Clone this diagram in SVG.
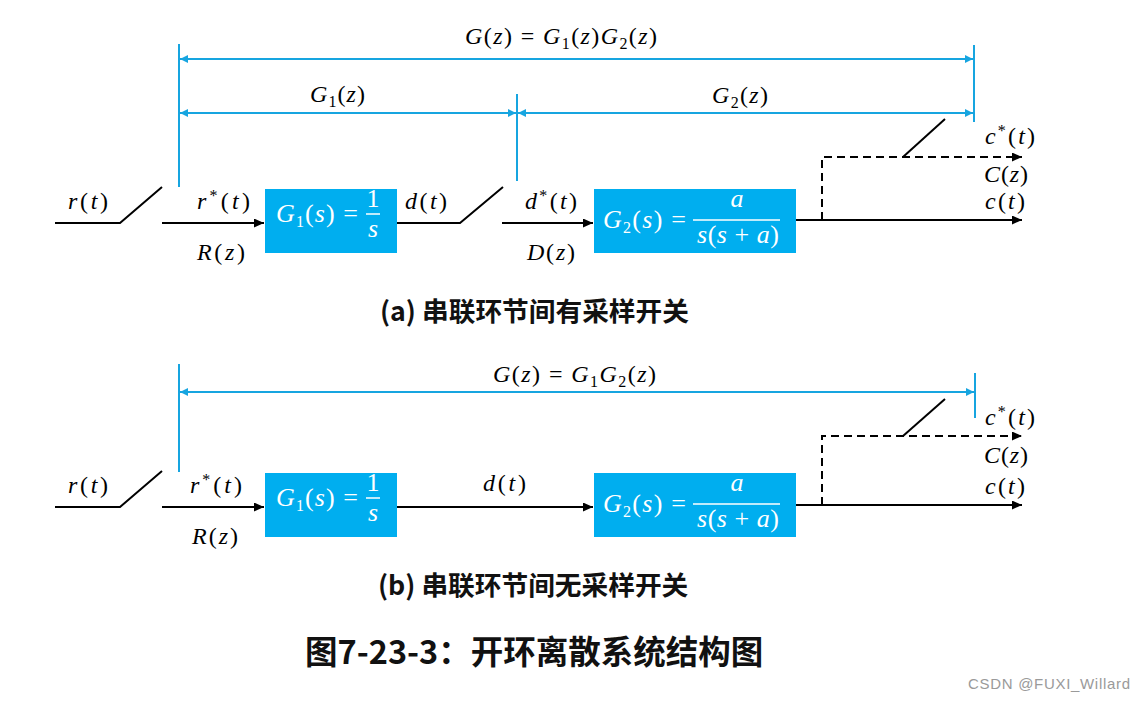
<svg xmlns="http://www.w3.org/2000/svg" width="1145" height="702" viewBox="0 0 1145 702">
<defs>
<style>
.m{font-family:"Liberation Serif","Times New Roman",serif;font-size:24px;fill:#000}
.it{font-style:italic}
.sb{font-size:16px}
.bx{fill:#fff;font-size:26px}
.box{fill:#00AEEF}
.ln{fill:none;stroke:#000;stroke-width:2}
.ds{fill:none;stroke:#000;stroke-width:2;stroke-dasharray:8 5}
.bl{fill:none;stroke:#17A5E0;stroke-width:2}
.cap{font-family:"Noto Sans CJK SC","Noto Sans",sans-serif;font-weight:bold;font-size:26.7px;fill:#111}
.ttl{font-family:"Noto Sans CJK SC","Noto Sans",sans-serif;font-weight:bold;font-size:32.5px;fill:#111}
.wm{font-family:"Liberation Sans","Arial",sans-serif;font-size:15px;fill:#9a9a9a}
</style>
<marker id="ah" markerUnits="userSpaceOnUse" viewBox="0 0 10 9" refX="10" refY="4.5" markerWidth="10" markerHeight="9" orient="auto"><path d="M0,0 L10,4.5 L0,9 z" fill="#000"/></marker>
<marker id="bh" markerUnits="userSpaceOnUse" viewBox="0 0 8 8" refX="8" refY="4" markerWidth="8" markerHeight="8" orient="auto-start-reverse"><path d="M0,0 L8,4 L0,8 z" fill="#17A5E0"/></marker>
</defs>
<rect width="1145" height="702" fill="#fff"/>

<!-- Panel (a) -->
<g id="connectors-a">
<path class="ln" d="M55,223 H120 L162,187"/>
<path class="ln" d="M162,223 H264" marker-end="url(#ah)"/>
<path class="ln" d="M397,223 H460 L503,187"/>
<path class="ln" d="M502,223 H593" marker-end="url(#ah)"/>
<path class="ln" d="M796,220 H1022" marker-end="url(#ah)"/>
<path class="ds" d="M822,220 V157 H1022" marker-end="url(#ah)"/>
<path class="ln" d="M903,157 L945,119"/>
<path class="bl" d="M179,44 V187 M517,94 V181 M974,45 V122"/>
<path class="bl" d="M180,59 H973" marker-start="url(#bh)" marker-end="url(#bh)"/>
<path class="bl" d="M180,113 H516" marker-start="url(#bh)" marker-end="url(#bh)"/>
<path class="bl" d="M518,113 H973" marker-start="url(#bh)" marker-end="url(#bh)"/>
</g>
<g id="node-G1-a">
<rect class="box" x="265" y="189" width="132" height="64"/>
<text class="m bx" x="276" y="222" textLength="82"><tspan class="it">G</tspan><tspan class="sb" dy="5">1</tspan><tspan dy="-5">(</tspan><tspan class="it">s</tspan>) =</text>
<text class="m bx" x="373" y="207" text-anchor="middle">1</text>
<line x1="366" y1="214" x2="380" y2="214" stroke="#fff" stroke-width="1.5"/>
<text class="m bx it" x="373" y="237" text-anchor="middle">s</text>
</g>
<g id="node-G2-a">
<rect class="box" x="594" y="189" width="202" height="64"/>
<text class="m bx" x="603" y="228" textLength="83"><tspan class="it">G</tspan><tspan class="sb" dy="5">2</tspan><tspan dy="-5">(</tspan><tspan class="it">s</tspan>) =</text>
<text class="m bx it" x="737" y="207" text-anchor="middle">a</text>
<line x1="693" y1="220" x2="780" y2="220" stroke="#fff" stroke-width="1.5"/>
<text class="m bx" x="697" y="243" textLength="82"><tspan class="it">s</tspan>(<tspan class="it">s</tspan> + <tspan class="it">a</tspan>)</text>
</g>
<g id="labels-a">
<text class="m" x="465" y="44" textLength="192"><tspan class="it">G</tspan>(<tspan class="it">z</tspan>) = <tspan class="it">G</tspan><tspan class="sb" dy="5">1</tspan><tspan dy="-5">(</tspan><tspan class="it">z</tspan>)<tspan class="it">G</tspan><tspan class="sb" dy="5">2</tspan><tspan dy="-5">(</tspan><tspan class="it">z</tspan>)</text>
<text class="m" x="310" y="102" textLength="55"><tspan class="it">G</tspan><tspan class="sb" dy="5">1</tspan><tspan dy="-5">(</tspan><tspan class="it">z</tspan>)</text>
<text class="m" x="712" y="103" textLength="56"><tspan class="it">G</tspan><tspan class="sb" dy="5">2</tspan><tspan dy="-5">(</tspan><tspan class="it">z</tspan>)</text>
<text class="m" x="68" y="209" textLength="40"><tspan class="it">r</tspan>(<tspan class="it">t</tspan>)</text>
<text class="m" x="197" y="209" textLength="53"><tspan class="it">r</tspan><tspan class="sb" dy="-8">*</tspan><tspan dy="8">(</tspan><tspan class="it">t</tspan>)</text>
<text class="m" x="197" y="260" textLength="48"><tspan class="it">R</tspan>(<tspan class="it">z</tspan>)</text>
<text class="m" x="405" y="209" textLength="42"><tspan class="it">d</tspan>(<tspan class="it">t</tspan>)</text>
<text class="m" x="525" y="209" textLength="52"><tspan class="it">d</tspan><tspan class="sb" dy="-8">*</tspan><tspan dy="8">(</tspan><tspan class="it">t</tspan>)</text>
<text class="m" x="527" y="260" textLength="48"><tspan class="it">D</tspan>(<tspan class="it">z</tspan>)</text>
<text class="m" x="985" y="144" textLength="50"><tspan class="it">c</tspan><tspan class="sb" dy="-8">*</tspan><tspan dy="8">(</tspan><tspan class="it">t</tspan>)</text>
<text class="m" x="984" y="182" textLength="44"><tspan class="it">C</tspan>(<tspan class="it">z</tspan>)</text>
<text class="m" x="985" y="209" textLength="40"><tspan class="it">c</tspan>(<tspan class="it">t</tspan>)</text>
</g>
<text class="cap" x="380" y="321">(a) 串联环节间有采样开关</text>

<!-- Panel (b) -->
<g id="connectors-b">
<path class="ln" d="M55,507 H120 L162,471"/>
<path class="ln" d="M162,507 H264" marker-end="url(#ah)"/>
<path class="ln" d="M397,507 H593" marker-end="url(#ah)"/>
<path class="ln" d="M796,505 H1022" marker-end="url(#ah)"/>
<path class="ds" d="M822,505 V436 H1022" marker-end="url(#ah)"/>
<path class="ln" d="M903,436 L945,399"/>
<path class="bl" d="M179,364 V472 M975,373 V418"/>
<path class="bl" d="M180,392 H974" marker-start="url(#bh)" marker-end="url(#bh)"/>
</g>
<g id="node-G1-b">
<rect class="box" x="265" y="473" width="132" height="64"/>
<text class="m bx" x="276" y="506" textLength="82"><tspan class="it">G</tspan><tspan class="sb" dy="5">1</tspan><tspan dy="-5">(</tspan><tspan class="it">s</tspan>) =</text>
<text class="m bx" x="373" y="491" text-anchor="middle">1</text>
<line x1="366" y1="498" x2="380" y2="498" stroke="#fff" stroke-width="1.5"/>
<text class="m bx it" x="373" y="521" text-anchor="middle">s</text>
</g>
<g id="node-G2-b">
<rect class="box" x="594" y="473" width="202" height="64"/>
<text class="m bx" x="603" y="512" textLength="83"><tspan class="it">G</tspan><tspan class="sb" dy="5">2</tspan><tspan dy="-5">(</tspan><tspan class="it">s</tspan>) =</text>
<text class="m bx it" x="737" y="491" text-anchor="middle">a</text>
<line x1="693" y1="504" x2="780" y2="504" stroke="#fff" stroke-width="1.5"/>
<text class="m bx" x="697" y="527" textLength="82"><tspan class="it">s</tspan>(<tspan class="it">s</tspan> + <tspan class="it">a</tspan>)</text>
</g>
<g id="labels-b">
<text class="m" x="493" y="382" textLength="163"><tspan class="it">G</tspan>(<tspan class="it">z</tspan>) = <tspan class="it">G</tspan><tspan class="sb" dy="5">1</tspan><tspan dy="-5" class="it">G</tspan><tspan class="sb" dy="5">2</tspan><tspan dy="-5">(</tspan><tspan class="it">z</tspan>)</text>
<text class="m" x="68" y="493" textLength="40"><tspan class="it">r</tspan>(<tspan class="it">t</tspan>)</text>
<text class="m" x="190" y="493" textLength="52"><tspan class="it">r</tspan><tspan class="sb" dy="-8">*</tspan><tspan dy="8">(</tspan><tspan class="it">t</tspan>)</text>
<text class="m" x="192" y="544" textLength="46"><tspan class="it">R</tspan>(<tspan class="it">z</tspan>)</text>
<text class="m" x="483" y="491" textLength="43"><tspan class="it">d</tspan>(<tspan class="it">t</tspan>)</text>
<text class="m" x="985" y="425" textLength="50"><tspan class="it">c</tspan><tspan class="sb" dy="-8">*</tspan><tspan dy="8">(</tspan><tspan class="it">t</tspan>)</text>
<text class="m" x="984" y="463" textLength="44"><tspan class="it">C</tspan>(<tspan class="it">z</tspan>)</text>
<text class="m" x="985" y="494" textLength="40"><tspan class="it">c</tspan>(<tspan class="it">t</tspan>)</text>
</g>
<text class="cap" x="378" y="595">(b) 串联环节间无采样开关</text>

<text class="ttl" x="305" y="664">图7-23-3：开环离散系统结构图</text>
<text class="wm" x="968" y="689" textLength="162">CSDN @FUXI_Willard</text>
</svg>
